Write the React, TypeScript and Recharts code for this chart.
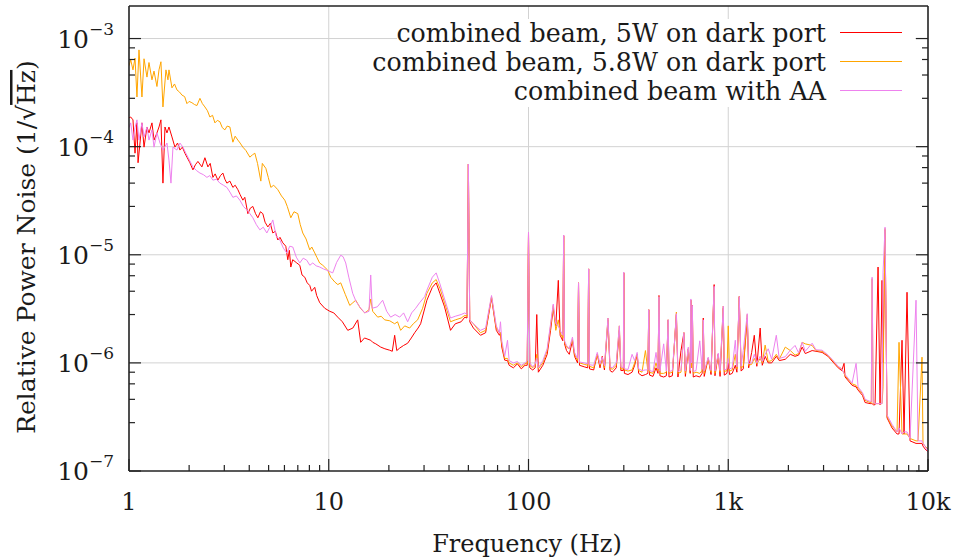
import { LineChart, Line, XAxis, YAxis, CartesianGrid } from 'recharts';

// relative power noise, values in units of 1e-6 / sqrt(Hz)
const seriesNames = ['combined beam, 5W on dark port', 'combined beam, 5.8W on dark port', 'combined beam with AA'];
const seriesColors = ['#ff0000', '#ffa500', '#ee82ee'];

// below 30 Hz each trace has its own points: [Hz, value]
const redLow: [number, number][] = [
  [1.0, 185], [1.02, 188], [1.047, 177], [1.072, 87], [1.096, 166], [1.11, 71], [1.161, 166], [1.189, 99], [1.23, 152], [1.259, 134],
  [1.303, 166], [1.334, 115], [1.38, 134], [1.413, 152], [1.445, 177], [1.479, 46], [1.514, 152], [1.549, 134], [1.585, 152], [1.641, 123],
  [1.698, 99], [1.75, 108], [1.799, 93], [1.85, 99], [1.905, 87], [1.95, 80], [2.018, 71], [2.089, 61], [2.15, 68], [2.213, 73],
  [2.317, 65], [2.399, 79], [2.483, 65], [2.55, 70], [2.63, 52], [2.7, 56], [2.786, 49], [2.87, 54], [2.951, 57], [3.02, 50],
  [3.09, 46], [3.2, 48], [3.311, 42], [3.4, 44], [3.508, 40], [3.6, 36], [3.715, 32], [3.8, 34], [3.936, 24], [4.05, 27],
  [4.169, 28], [4.3, 24], [4.416, 22], [4.55, 25], [4.677, 24], [4.8, 20], [4.955, 18.1], [5.1, 19.5], [5.248, 15.9], [5.4, 16.5],
  [5.559, 13.7], [5.7, 14.5], [5.888, 12.9], [6.095, 12.0], [6.237, 9.0], [6.35, 11], [6.457, 7.7], [6.6, 9], [6.918, 8.4], [7.161, 8.0],
  [7.35, 6.5], [7.586, 6.2], [7.8, 5.5], [8.035, 5.2], [8.2, 4.6], [8.511, 5.0], [8.7, 4.2], [9.016, 3.6], [9.55, 3.2], [10.12, 3.0],
  [10.6, 2.9], [11.09, 2.65], [11.7, 2.4], [12.45, 2.0], [13.2, 2.1], [13.96, 2.5], [14.45, 1.55], [15.1, 1.7], [16.22, 1.62], [16.6, 1.55],
  [17.2, 1.5], [18.2, 1.4], [19.1, 1.35], [20.18, 1.31], [20.8, 1.28], [21.38, 1.8], [21.9, 1.3], [22.65, 1.37], [23.7, 1.45], [24.83, 1.52],
  [25.9, 1.7], [26.92, 1.9], [28.0, 2.1], [28.84, 2.3],
];

const orangeLow: [number, number][] = [
  [1.0, 560], [1.02, 635], [1.047, 513], [1.072, 660], [1.096, 288], [1.122, 785], [1.161, 288], [1.189, 650], [1.23, 440], [1.259, 600],
  [1.303, 415], [1.334, 500], [1.38, 360], [1.413, 513], [1.445, 610], [1.479, 233], [1.531, 513], [1.567, 415], [1.585, 513], [1.641, 350],
  [1.69, 380], [1.738, 335], [1.79, 320], [1.841, 300], [1.9, 290], [1.95, 250], [2.0, 262], [2.065, 255], [2.13, 245], [2.188, 240],
  [2.265, 280], [2.33, 250], [2.399, 233], [2.47, 215], [2.541, 188], [2.62, 195], [2.692, 166], [2.77, 175], [2.851, 170], [2.93, 150],
  [3.02, 143], [3.1, 155], [3.199, 152], [3.311, 110], [3.4, 125], [3.508, 115], [3.6, 108], [3.715, 99], [3.85, 92], [4.027, 80],
  [4.15, 84], [4.266, 87], [4.4, 70], [4.571, 48], [4.65, 70], [4.842, 63], [4.98, 52], [5.129, 42], [5.3, 44], [5.559, 40],
  [5.8, 35], [6.026, 32], [6.2, 28], [6.457, 22], [6.7, 25], [6.998, 24], [7.2, 19], [7.413, 15.9], [7.7, 14], [8.035, 11.1],
  [8.222, 11.8], [8.511, 10.4], [8.71, 9.5], [9.0, 8.4], [9.333, 8.0], [9.886, 7.2], [10.23, 6.2], [10.72, 5.6], [11.1, 5.3], [11.48, 5.5],
  [12.1, 4.3], [12.74, 3.4], [13.2, 3.6], [13.65, 3.8], [14.4, 3.2], [15.14, 2.9], [15.9, 3.1], [16.22, 3.9], [16.6, 3.0], [17.58, 2.65],
  [18.3, 2.7], [19.05, 2.5], [20.2, 2.45], [21.38, 2.3], [22.1, 2.4], [22.91, 2.0], [24.0, 2.2], [25.41, 2.1], [26.5, 2.3], [27.86, 2.5],
  [29.5, 3.2],
];

const violetLow: [number, number][] = [
  [1.0, 150], [1.02, 166], [1.047, 115], [1.072, 150], [1.096, 177], [1.122, 115], [1.161, 166], [1.189, 123], [1.23, 152], [1.259, 115],
  [1.303, 143], [1.334, 99], [1.38, 134], [1.43, 108], [1.479, 93], [1.549, 108], [1.585, 75], [1.622, 46], [1.66, 99], [1.738, 93],
  [1.799, 108], [1.862, 99], [1.92, 88], [1.972, 80], [2.03, 72], [2.089, 65], [2.18, 60], [2.265, 57], [2.36, 55], [2.455, 52],
  [2.54, 54], [2.63, 49], [2.74, 50], [2.851, 46], [2.97, 44], [3.09, 42], [3.2, 38], [3.311, 34], [3.45, 35], [3.589, 32],
  [3.74, 28], [3.89, 26], [4.03, 24], [4.169, 22], [4.34, 19], [4.519, 17], [4.7, 18], [4.898, 15.9], [5.07, 18], [5.248, 21],
  [5.45, 15], [5.689, 13.7], [5.93, 11.5], [6.166, 10.4], [6.38, 12], [6.607, 11.8], [6.88, 9.5], [7.161, 8.4], [7.45, 9.3], [7.762, 8.9],
  [8.04, 8.0], [8.318, 8.4], [8.65, 7.9], [9.016, 7.7], [9.4, 7.4], [9.772, 7.2], [10.1, 7.0], [10.47, 6.8], [10.95, 8.5], [11.48, 9.9],
  [11.8, 9.6], [12.16, 8.4], [12.6, 6.2], [13.18, 4.4], [13.7, 3.7], [14.29, 3.3], [15.14, 2.9], [15.9, 3.0], [16.22, 6.5], [16.5, 3.2],
  [17.5, 3.3], [18.62, 3.8], [19.5, 3.0], [20.42, 2.65], [21.5, 2.8], [22.65, 2.65], [23.7, 2.9], [24.83, 2.4], [26.0, 2.9], [27.23, 3.2],
  [28.5, 3.6], [30.2, 4.1],
];

// above 30 Hz the three traces share one frequency grid
const hfFreq = [
  31, 33, 34.5, 36, 38, 40.7, 43, 46, 48, 49.2,
  50, 50.8, 53, 57.5, 61, 65.3, 69, 71.5, 72.4, 73.5,
  76, 78.5, 80, 84, 88, 92, 96, 98.5, 100, 101.5,
  105, 108, 110, 112, 118, 124, 129, 133, 137, 141,
  144, 148.5, 150, 151.5, 155, 160, 166, 170, 176, 178,
  180, 190, 198, 200, 202, 212, 221, 228, 234, 240,
  250, 256, 263, 275, 285, 290, 298.5, 300, 302, 315,
  330, 340, 350, 356, 370, 385, 396, 400, 404, 420,
  435, 445, 450, 455, 475, 490, 500, 505, 525, 537,
  550, 560, 580, 600, 610, 631, 645, 650, 655, 661,
  668, 690, 720, 740, 750, 758, 794, 820, 850, 858,
  891, 910, 944, 955, 985, 1000, 1015, 1047, 1085, 1105,
  1135, 1160, 1189, 1245, 1265, 1310, 1350, 1390, 1445, 1480,
  1530, 1585, 1650, 1740, 1800, 1930, 2045, 2160, 2250, 2345,
  2430, 2630, 2750, 2950, 3160, 3310, 3550, 3700, 3800, 3846,
  4169, 4365, 4467, 4700, 4842, 5129, 5200, 5250, 5320, 5433,
  5623, 5754, 5888, 5957, 6095, 6237, 6607, 6998, 7161, 7413,
  7586, 7852, 8128, 8710, 8913, 9333, 9441, 9661, 10000,
];

const redHf = [
  3.8, 5.0, 5.5, 4.4, 3.3, 2.0, 2.3, 2.4, 2.65, 2.6,
  69, 2.4, 2.1, 1.8, 1.9, 4.0, 2.0, 1.8, 1.9, 1.4,
  1.06, 1.05, 0.95, 0.9, 0.98, 0.88, 0.95, 0.95, 16.2, 0.9,
  0.86, 0.9, 2.8, 0.82, 0.95, 1.2, 2.0, 3.2, 2.2, 5.8,
  1.8, 1.6, 15, 1.5, 1.3, 1.2, 1.6, 1.15, 1.0, 5.5,
  0.95, 0.92, 0.9, 7.4, 0.88, 0.86, 1.2, 0.9, 1.15, 0.86,
  2.5, 0.85, 0.82, 0.9, 2.0, 0.85, 0.85, 6.8, 0.8, 0.78,
  0.82, 0.95, 1.2, 0.8, 0.76, 0.78, 0.8, 3.1, 0.77, 0.75,
  0.9, 0.8, 4.2, 0.76, 0.74, 0.76, 2.5, 0.74, 0.76, 1.45,
  2.8, 0.74, 1.3, 1.9, 0.75, 1.35, 0.8, 3.8, 0.9, 3.4,
  0.74, 0.76, 0.74, 0.8, 2.6, 0.75, 1.1, 0.78, 5.3, 0.76,
  1.2, 0.75, 3.2, 0.77, 0.8, 1.0, 0.78, 0.8, 0.95, 0.82,
  4.1, 0.84, 0.88, 2.6, 0.9, 1.25, 1.8, 0.93, 2.1, 0.95,
  1.15, 1.0, 1.0, 1.15, 1.05, 1.08, 1.2, 1.15, 1.18, 1.4,
  1.22, 1.3, 1.28, 1.25, 1.15, 1.04, 0.9, 0.85, 0.99, 0.74,
  0.62, 0.6, 0.56, 0.5, 0.43, 0.42, 0.42, 0.42, 0.41, 0.41,
  7.7, 0.41, 5.8, 1.0, 17, 0.31, 0.25, 0.22, 0.22, 1.62,
  0.22, 4.5, 0.19, 0.18, 0.18, 0.18, 0.17, 0.16, 0.15,
];

const orangeHf = [
  4.4, 5.5, 5.9, 4.9, 3.6, 2.4, 2.5, 2.6, 2.75, 2.7,
  69, 2.5, 2.3, 1.9, 2.0, 4.1, 2.1, 1.9, 1.9, 1.5,
  1.1, 1.1, 1.0, 0.95, 1.0, 0.92, 0.98, 1.0, 16, 0.95,
  0.9, 0.95, 1.2, 0.88, 1.0, 1.3, 2.2, 3.4, 2.0, 2.5,
  1.9, 1.7, 15, 1.55, 1.4, 1.35, 1.65, 1.2, 1.05, 5.5,
  1.0, 0.97, 0.95, 7.4, 0.93, 0.9, 1.2, 0.95, 1.1, 0.9,
  2.6, 0.9, 0.87, 0.95, 2.2, 0.88, 0.88, 6.8, 0.86, 0.84,
  0.86, 1.0, 1.2, 0.85, 0.82, 1.3, 0.84, 3.1, 0.82, 0.8,
  1.0, 0.85, 4.1, 0.8, 0.8, 0.82, 2.5, 0.8, 0.82, 1.45,
  2.95, 0.8, 0.82, 1.9, 0.8, 1.35, 0.85, 3.8, 0.9, 3.3,
  0.8, 0.82, 0.8, 0.85, 2.45, 0.8, 1.1, 0.82, 5.0, 0.8,
  1.2, 0.82, 3.35, 0.83, 0.85, 2.2, 0.84, 0.86, 1.2, 0.88,
  4.1, 0.9, 0.93, 2.8, 0.95, 0.97, 1.1, 0.98, 1.1, 1.0,
  1.46, 1.03, 1.05, 1.2, 1.08, 1.4, 1.3, 1.18, 1.22, 1.55,
  1.5, 1.45, 1.3, 1.28, 1.17, 1.06, 0.92, 0.88, 0.8, 0.76,
  0.64, 0.62, 0.58, 0.52, 0.45, 0.43, 0.43, 6.0, 0.42, 0.42,
  0.42, 0.42, 0.42, 0.6, 17.5, 0.32, 0.26, 0.23, 1.55, 0.22,
  0.22, 0.22, 0.2, 0.19, 0.19, 1.13, 0.18, 0.17, 0.16,
];

const violetHf = [
  4.7, 6.2, 6.8, 5.4, 3.9, 2.6, 2.7, 2.8, 2.9, 2.8,
  69, 2.5, 2.3, 2.0, 2.1, 4.2, 2.2, 1.9, 2.4, 1.6,
  1.15, 1.62, 1.05, 1.0, 1.03, 0.95, 1.0, 1.05, 16.2, 1.0,
  0.92, 0.98, 1.1, 0.9, 1.05, 1.35, 2.3, 3.5, 2.3, 2.2,
  2.0, 1.8, 15.2, 1.6, 1.45, 1.35, 1.73, 1.25, 1.1, 5.5,
  1.02, 1.0, 0.98, 7.4, 0.96, 0.95, 1.25, 0.98, 1.13, 0.94,
  2.6, 0.92, 0.9, 1.0, 2.2, 0.92, 0.9, 6.9, 0.88, 0.87,
  1.2, 1.05, 1.25, 0.88, 0.85, 0.86, 0.86, 3.1, 0.85, 0.83,
  1.25, 0.88, 4.1, 0.84, 1.5, 0.84, 2.5, 0.83, 0.85, 1.46,
  2.85, 0.83, 0.86, 1.9, 0.84, 1.4, 0.85, 3.9, 1.0, 3.4,
  0.83, 0.85, 1.6, 0.87, 2.5, 0.84, 1.13, 0.85, 5.1, 0.84,
  1.23, 0.85, 3.35, 0.86, 0.88, 1.1, 0.88, 0.9, 1.62, 0.92,
  4.1, 0.93, 1.3, 2.85, 0.98, 1.0, 1.2, 1.0, 1.15, 1.03,
  1.2, 1.35, 1.08, 1.8, 1.1, 1.14, 1.31, 1.45, 1.24, 1.55,
  1.28, 1.52, 1.32, 1.31, 1.18, 1.08, 0.93, 0.88, 0.8, 0.78,
  0.65, 0.99, 0.6, 0.53, 0.46, 0.44, 0.44, 6.2, 0.43, 0.42,
  0.42, 0.42, 0.42, 6.9, 18, 0.33, 0.27, 0.23, 0.25, 0.22,
  0.23, 0.23, 0.2, 3.8, 0.19, 0.19, 0.18, 0.17, 0.15,
];

const xMajor = [1, 10, 100, 1000, 10000];
const xLabels = ['1', '10', '100', '1k', '10k'];
const yMajor = [1e-7, 1e-6, 1e-5, 1e-4, 1e-3];
const yExponents = ['−7', '−6', '−5', '−4', '−3'];
const xMinorSteps = [2, 3, 4, 5, 6, 7, 8, 9];
const yMinorSteps = [2.8, 4.6, 6.4, 8.2];

const xDomain = [1, 10000];
const yDomain = [1e-7, 2e-3];

const xTicks = [...xMajor, ...xMajor.slice(0, 4).flatMap((d) => xMinorSteps.map((s) => s * d))];
const yTicks = [...yMajor, ...yMajor.flatMap((d) => yMinorSteps.map((s) => s * d)).filter((v) => v <= 2e-3)];

const toPoints = (rows: [number, number][], freqs: number[], vals: number[]) =>
  [...rows, ...freqs.map((f, i) => [f, vals[i]] as [number, number])].map(([f, u]) => ({ f, v: u * 1e-6 }));

const seriesData = [
  toPoints(redLow, hfFreq, redHf),
  toPoints(orangeLow, hfFreq, orangeHf),
  toPoints(violetLow, hfFreq, violetHf),
];

const FONT = '"DejaVu Serif", serif';
const TEXT = '#1a1a1a';
const FRAME = '#222';

const isMajor = (list: number[], v: number) => list.some((m) => Math.abs(v / m - 1) < 1e-9);

function BottomTick({ x, y, payload }: any) {
  const i = xMajor.findIndex((m) => Math.abs(payload.value / m - 1) < 1e-9);
  const major = i >= 0;
  return (
    <g>
      <line x1={x} x2={x} y1={y} y2={y - (major ? 12 : 6)} stroke={FRAME} strokeWidth={1.2} />
      {major && (
        <text x={x} y={y + 39} textAnchor="middle" fontFamily={FONT} fontSize={24} fill={TEXT}>
          {xLabels[i]}
        </text>
      )}
    </g>
  );
}

function TopTick({ x, y, payload }: any) {
  const major = isMajor(xMajor, payload.value);
  return <line x1={x} x2={x} y1={y} y2={y + (major ? 12 : 6)} stroke={FRAME} strokeWidth={1.2} />;
}

function LeftTick({ x, y, payload }: any) {
  const i = yMajor.findIndex((m) => Math.abs(payload.value / m - 1) < 1e-9);
  const major = i >= 0;
  return (
    <g>
      <line x1={x} x2={x + (major ? 12 : 6)} y1={y} y2={y} stroke={FRAME} strokeWidth={1.2} />
      {major && (
        <text x={x - 15} y={y + 9} textAnchor="end" fontFamily={FONT} fontSize={25} fill={TEXT}>
          <tspan>10</tspan>
          <tspan dy={-13} fontSize={17}>{yExponents[i]}</tspan>
        </text>
      )}
    </g>
  );
}

function RightTick({ x, y, payload }: any) {
  const major = isMajor(yMajor, payload.value);
  return <line x1={x} x2={x - (major ? 12 : 6)} y1={y} y2={y} stroke={FRAME} strokeWidth={1.2} />;
}

const axisLine = { stroke: FRAME, strokeWidth: 1.6 };

export default function App() {
  return (
    <div style={{ position: 'absolute', left: 0, top: 0, width: 955, height: 560, background: '#fff' }}>
      <LineChart width={955} height={560} margin={{ top: 5, right: 26, bottom: 0, left: 0 }}>
        <CartesianGrid
          xAxisId="b"
          yAxisId="l"
          stroke="#d2d2d2"
          strokeWidth={1}
          verticalValues={[10, 100, 1000]}
          horizontalValues={[1e-6, 1e-5, 1e-4, 1e-3]}
        />
        <XAxis
          xAxisId="b"
          dataKey="f"
          type="number"
          scale="log"
          domain={xDomain}
          allowDataOverflow
          ticks={xTicks}
          interval={0}
          height={89}
          tickSize={0}
          tickMargin={0}
          tickLine={false}
          tick={BottomTick}
          axisLine={axisLine}
        />
        <XAxis
          xAxisId="t"
          orientation="top"
          type="number"
          scale="log"
          domain={xDomain}
          allowDataOverflow
          ticks={xTicks}
          interval={0}
          height={1}
          tickSize={0}
          tickMargin={0}
          tickLine={false}
          tick={TopTick}
          axisLine={axisLine}
        />
        <YAxis
          yAxisId="l"
          type="number"
          scale="log"
          domain={yDomain}
          allowDataOverflow
          ticks={yTicks}
          interval={0}
          width={129}
          tickSize={0}
          tickMargin={0}
          tickLine={false}
          tick={LeftTick}
          axisLine={axisLine}
        />
        <YAxis
          yAxisId="r"
          orientation="right"
          type="number"
          scale="log"
          domain={yDomain}
          allowDataOverflow
          ticks={yTicks}
          interval={0}
          width={1}
          tickSize={0}
          tickMargin={0}
          tickLine={false}
          tick={RightTick}
          axisLine={axisLine}
        />
        {seriesData.map((d, i) => (
          <Line
            key={seriesNames[i]}
            data={d}
            dataKey="v"
            xAxisId="b"
            yAxisId="l"
            type="linear"
            stroke={seriesColors[i]}
            strokeWidth={1}
            dot={false}
            activeDot={false}
            isAnimationActive={false}
          />
        ))}
      </LineChart>

      <svg width={955} height={560} style={{ position: 'absolute', left: 0, top: 0, pointerEvents: 'none' }}>
        <rect x={397} y={19} width={518} height={88} fill="#fff" />
        {seriesNames.map((name, i) => (
          <g key={name}>
            <text x={826} y={42 + i * 29} textAnchor="end" fontFamily={FONT} fontSize={25.3} fill={TEXT}>
              {name}
            </text>
            <line x1={840} x2={902} y1={32.5 + i * 29} y2={32.5 + i * 29} stroke={seriesColors[i]} strokeWidth={1} />
          </g>
        ))}
        <text x={527} y={552} textAnchor="middle" fontFamily={FONT} fontSize={24} fill={TEXT}>
          Frequency (Hz)
        </text>
        <text
          x={35}
          y={247}
          transform="rotate(-90, 35, 247)"
          textAnchor="middle"
          fontFamily={FONT}
          fontSize={25}
          fill={TEXT}
        >
          Relative Power Noise (1/√<tspan style={{ textDecoration: 'overline' }}>Hz</tspan>)
        </text>
      </svg>
    </div>
  );
}
